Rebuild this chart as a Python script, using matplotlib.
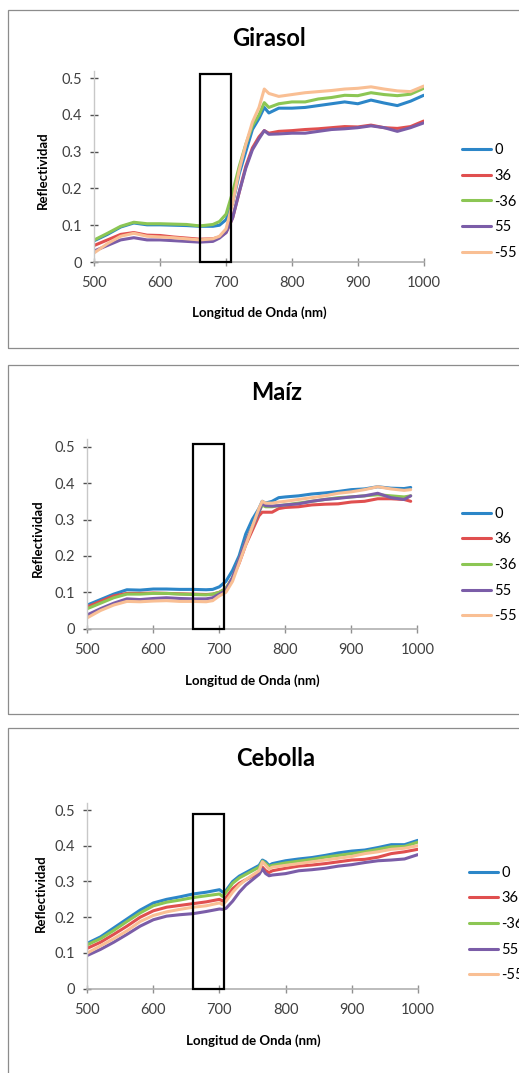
import matplotlib
matplotlib.use("Agg")
import matplotlib.pyplot as plt
from matplotlib.patches import Rectangle

plt.rcParams['font.family'] = ['Lato', 'DejaVu Sans']

W, H = 519, 1073

series_labels = ["0", "36", "-36", "55", "-55"]
series_colors = ["#2C86C8", "#E04F4F", "#8CC654", "#7B5DA8", "#F9BF94"]

# Girasol
wl_girasol = [500, 520, 540, 560, 580, 600, 620, 640, 660, 680, 690, 700, 710, 720, 730,
              740, 750, 758, 765, 780, 800, 820, 840, 860, 880, 900, 920, 940, 960, 980, 1000]
girasol_0 = [.058, .075, .095, .106, .101, .101, .100, .099, .097, .097, .100, .115, .16, .24, .30,
             .36, .39, .42, .405, .418, .418, .42, .425, .43, .435, .43, .44, .432, .425, .437, .453]
girasol_36 = [.045, .06, .075, .08, .073, .072, .068, .065, .062, .063, .068, .08, .12, .19, .26,
              .31, .34, .357, .35, .355, .357, .36, .362, .365, .368, .367, .372, .365, .363, .368, .383]
girasol_m36 = [.06, .078, .097, .108, .104, .104, .103, .102, .098, .102, .11, .13, .19, .26, .32,
               .37, .40, .433, .42, .43, .435, .435, .443, .447, .453, .452, .46, .455, .452, .456, .472]
girasol_55 = [.03, .045, .06, .066, .06, .06, .058, .056, .054, .056, .065, .08, .12, .19, .255,
              .305, .335, .357, .347, .348, .35, .35, .355, .36, .362, .365, .37, .365, .355, .365, .378]
girasol_m55 = [.025, .05, .07, .078, .07, .068, .066, .063, .06, .063, .07, .09, .16, .25, .32,
               .38, .42, .47, .458, .45, .455, .46, .463, .466, .47, .472, .476, .47, .465, .463, .478]

# Maiz
wl_maiz = [500, 520, 540, 560, 580, 600, 620, 640, 660, 680, 690, 700, 710, 720, 730, 740, 750,
           760, 765, 770, 780, 790, 800, 820, 840, 860, 880, 900, 920, 940, 960, 980, 990]
maiz_0 = [.065, .08, .095, .107, .106, .109, .109, .108, .108, .107, .108, .115, .13, .16, .2, .26, .3,
          .33, .35, .345, .35, .36, .362, .365, .37, .373, .377, .382, .384, .39, .386, .385, .388]
maiz_36 = [.06, .075, .09, .097, .097, .098, .097, .096, .095, .094, .095, .1, .11, .14, .18, .23, .27,
           .31, .32, .32, .32, .33, .333, .335, .34, .342, .343, .348, .35, .357, .357, .355, .35]
maiz_m36 = [.055, .07, .085, .095, .095, .097, .097, .095, .094, .093, .095, .1, .11, .14, .19, .24, .28,
            .32, .34, .335, .335, .338, .34, .345, .35, .355, .36, .362, .365, .368, .365, .362, .365]
maiz_55 = [.038, .055, .07, .082, .08, .083, .085, .083, .082, .082, .085, .095, .105, .14, .19, .24, .28,
           .32, .345, .338, .337, .338, .34, .343, .35, .355, .358, .362, .365, .372, .36, .355, .365]
maiz_m55 = [.03, .05, .065, .075, .074, .076, .077, .075, .075, .074, .077, .09, .1, .13, .18, .23, .28,
            .33, .35, .345, .345, .348, .35, .355, .36, .365, .372, .376, .382, .39, .384, .38, .382]

# Cebolla
wl_cebolla = [500, 520, 540, 560, 580, 600, 620, 640, 660, 680, 700, 705, 710, 720, 730, 740, 750,
              760, 765, 770, 775, 780, 800, 820, 840, 860, 880, 900, 920, 940, 960, 980, 1000]
cebolla_0 = [.127, .145, .17, .195, .22, .24, .25, .257, .265, .27, .277, .27, .275, .30, .315, .325, .335,
             .345, .36, .355, .345, .35, .358, .363, .367, .373, .38, .385, .388, .395, .403, .403, .415]
cebolla_36 = [.113, .13, .152, .175, .2, .218, .228, .233, .238, .243, .25, .245, .255, .28, .295, .305, .315,
              .325, .34, .33, .325, .33, .337, .343, .346, .35, .355, .36, .362, .368, .378, .383, .39]
cebolla_m36 = [.123, .14, .163, .188, .212, .232, .242, .248, .255, .26, .265, .258, .27, .295, .31, .32, .33,
               .34, .357, .35, .342, .345, .352, .357, .362, .368, .373, .378, .383, .39, .397, .398, .41]
cebolla_55 = [.093, .11, .13, .152, .175, .193, .203, .207, .21, .216, .223, .222, .225, .245, .27, .29, .305,
              .32, .335, .322, .316, .318, .322, .33, .333, .337, .343, .347, .353, .358, .36, .363, .375]
cebolla_m55 = [.1, .12, .14, .162, .188, .205, .215, .222, .228, .232, .24, .235, .245, .27, .29, .305, .318,
               .33, .355, .345, .335, .34, .345, .35, .355, .36, .365, .37, .378, .383, .39, .393, .4]

panels = [
    ("Girasol", wl_girasol, [girasol_0, girasol_36, girasol_m36, girasol_55, girasol_m55]),
    ("Maíz", wl_maiz, [maiz_0, maiz_36, maiz_m36, maiz_55, maiz_m55]),
    ("Cebolla", wl_cebolla, [cebolla_0, cebolla_36, cebolla_m36, cebolla_55, cebolla_m55]),
]

# layout in pixels (top-left origin)
layout = [
    dict(frame=(10, 348), ax=(94.3, 423.7, 262.0, 368.0), box_top=0.511,
         title=(269, 38), ylab=(43, 170), xlab=(259, 313), leg=(462, 201.5)),
    dict(frame=(365, 714), ax=(87.3, 417.3, 628.7, 364.0), box_top=0.507,
         title=(277, 393), ylab=(38, 538), xlab=(252, 681), leg=(462, 565)),
    dict(frame=(728, 1090), ax=(87.3, 417.7, 988.7, 357.4), box_top=0.49,
         title=(276, 759), ylab=(41, 893), xlab=(253, 1041), leg=(469, 924)),
]

fig = plt.figure(figsize=(W / 100, H / 100), dpi=100)

def fx(px):
    return px / W

def fy(py):
    return 1 - py / H

ytop = 0.52
for (name, wl, vals), lay in zip(panels, layout):
    ft, fb = lay["frame"]
    fig.add_artist(Rectangle((fx(8), fy(fb)), fx(530) - fx(8), fy(ft) - fy(fb),
                             transform=fig.transFigure, fill=False,
                             edgecolor="#8c8c8c", lw=0.9))
    l, r, y0, ppu = lay["ax"]
    top_px = y0 - ytop * ppu
    ax = fig.add_axes([fx(l), fy(y0), fx(r) - fx(l), fy(top_px) - fy(y0)])
    for v, lab, c in zip(vals, series_labels, series_colors):
        ax.plot(wl, v, color=c, lw=2.2, label=lab, solid_capstyle="round")
    ax.add_patch(Rectangle((660, 0), 47, lay["box_top"], fill=False,
                           edgecolor="black", lw=1.6, clip_on=False, zorder=5))
    ax.set_xlim(500, 1000)
    ax.set_ylim(0, ytop)
    ax.set_xticks(range(500, 1001, 100))
    ax.set_yticks([0, 0.1, 0.2, 0.3, 0.4, 0.5])
    ax.set_yticklabels(["0", "0.1", "0.2", "0.3", "0.4", "0.5"])
    for s in ["top", "right"]:
        ax.spines[s].set_visible(False)
    ax.spines["left"].set_color("#c8c8c8")
    ax.spines["bottom"].set_color("#b0b0b0")
    ax.spines["left"].set_linewidth(1.0)
    ax.spines["bottom"].set_linewidth(1.2)
    ax.tick_params(axis="x", direction="inout", length=6, width=1.0, color="#909090",
                   labelsize=10.5, labelcolor="#404040", pad=7)
    ax.tick_params(axis="y", direction="inout", length=6, width=1.0, color="#505050",
                   labelsize=10.5, labelcolor="#404040", pad=6)
    ax.patch.set_alpha(0)

    tx, ty = lay["title"]
    fig.text(fx(tx), fy(ty), name, ha="center", va="center", fontsize=17, fontweight="bold")
    yx, yy = lay["ylab"]
    fig.text(fx(yx), fy(yy), "Reflectividad", ha="center", va="center", rotation=90,
             fontsize=9.5, fontweight="bold")
    xx, xy = lay["xlab"]
    fig.text(fx(xx), fy(xy), "Longitud de Onda (nm)", ha="center", va="center",
             fontsize=9.5, fontweight="bold")
    lx, ly = lay["leg"]
    ax.legend(loc="center left", bbox_to_anchor=(fx(lx), fy(ly)), bbox_transform=fig.transFigure,
              frameon=False, fontsize=10.5, handlelength=2.0, handletextpad=0.2,
              labelspacing=0.8, borderpad=0, borderaxespad=0)

fig.savefig("out.png", dpi=100)
